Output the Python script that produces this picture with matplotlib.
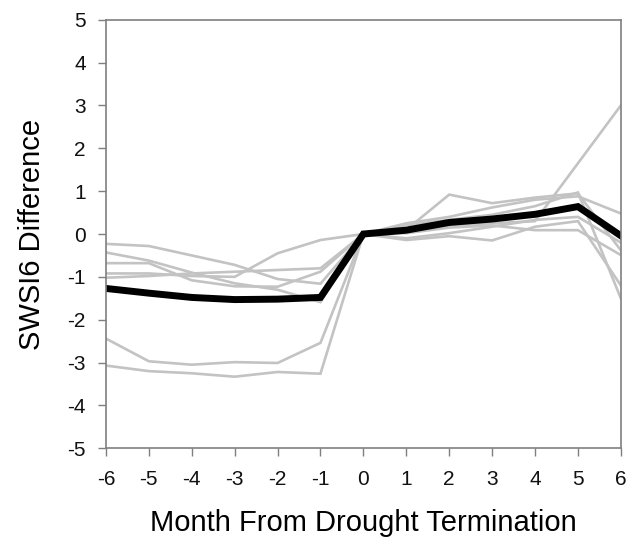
import numpy as np
import matplotlib.pyplot as plt

months = [-6, -5, -4, -3, -2, -1, 0, 1, 2, 3, 4, 5, 6]

# individual drought events (gray)
event_1 = [-0.23, -0.28, -0.50, -0.72, -1.05, -1.16, 0, 0.05, 0.20, 0.25, 0.30, 1.65, 3.00]
event_2 = [-0.43, -0.62, -0.90, -1.15, -1.30, -1.59, 0, 0.10, 0.92, 0.72, 0.85, 0.95, -0.38]
event_3 = [-0.68, -0.68, -1.08, -1.22, -1.23, -0.88, 0, 0.25, 0.40, 0.62, 0.80, 0.88, 0.48]
event_4 = [-0.92, -0.92, -0.98, -1.00, -0.45, -0.14, 0, 0.21, 0.33, 0.45, 0.65, 0.97, -1.50]
event_5 = [-1.02, -0.98, -0.92, -0.88, -0.84, -0.80, 0, -0.14, -0.05, -0.15, 0.17, 0.30, -1.20]
event_6 = [-2.44, -2.97, -3.05, -2.99, -3.01, -2.54, 0, 0.02, 0.15, 0.20, 0.09, 0.09, -0.49]
event_7 = [-3.07, -3.20, -3.25, -3.33, -3.22, -3.26, 0, -0.10, 0.02, 0.17, 0.33, 0.40, -0.20]

# mean (black)
mean_diff = [-1.27, -1.38, -1.48, -1.53, -1.52, -1.48, 0, 0.09, 0.27, 0.35, 0.46, 0.64, -0.04]

events = [event_1, event_2, event_3, event_4, event_5, event_6, event_7]

plt.rcParams["font.family"] = ["Liberation Sans", "DejaVu Sans"]
plt.rcParams["axes.unicode_minus"] = False

fig = plt.figure(figsize=(6.42, 5.5), dpi=100)
ax = fig.add_axes([0.165, 0.185, 0.802, 0.779])

for ev in events:
    ax.plot(months, ev, color="#c3c3c3", lw=1.9, solid_joinstyle="miter")
ax.plot(months, mean_diff, color="black", lw=5, solid_joinstyle="miter")

ax.set_xlim(-6, 6)
ax.set_ylim(-5, 5)
ax.set_xticks(months)
ax.set_yticks(range(-5, 6))

for s in ax.spines.values():
    s.set_color("#7f7f7f")
    s.set_linewidth(1.2)
ax.tick_params(direction="out", length=6, width=1, color="#7f7f7f",
               labelsize=15, labelcolor="#111111", pad=8.5)
ax.tick_params(axis="x", pad=10)

ax.set_xlabel("Month From Drought Termination", fontsize=21, labelpad=14)
ax.set_ylabel("SWSI6 Difference", fontsize=21, labelpad=15)

plt.savefig("out.png", dpi=100)
